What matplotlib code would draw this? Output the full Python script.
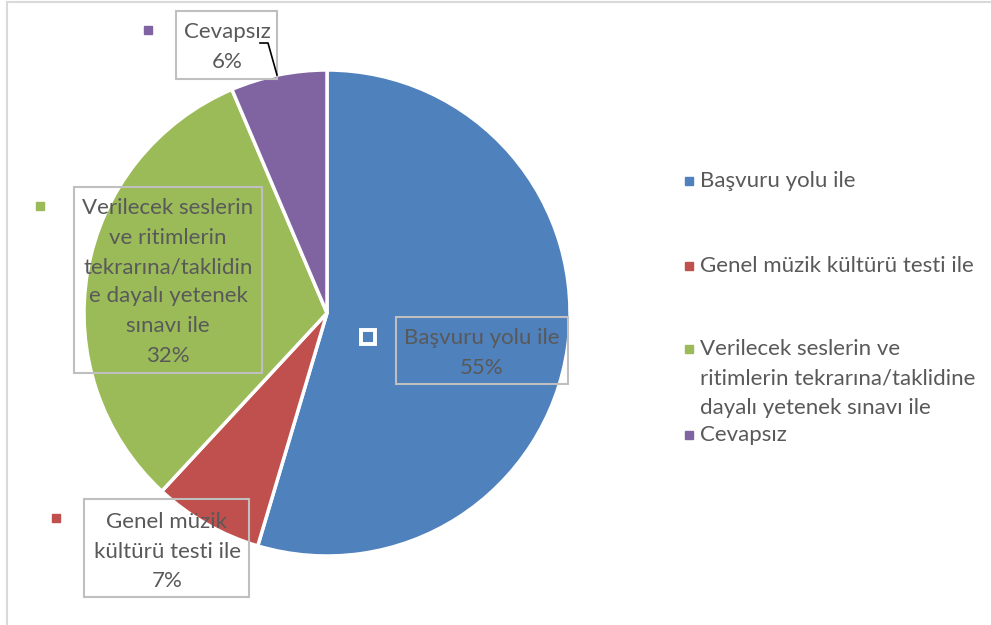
import matplotlib
matplotlib.use("Agg")
import matplotlib.pyplot as plt
from matplotlib.patches import Rectangle
from matplotlib.lines import Line2D

W, H = 991, 625

categories = [
    "Başvuru yolu ile",
    "Genel müzik kültürü testi ile",
    "Verilecek seslerin ve ritimlerin tekrarına/taklidine dayalı yetenek sınavı ile",
    "Cevapsız",
]
# slice sizes (labels show them rounded)
values = [54.6, 7.3, 31.7, 6.4]
colors = ["#4F81BD", "#C0504D", "#9BBB59", "#8064A2"]

# wrapped text as it appears inside the data label boxes
label_lines = [
    "Başvuru yolu ile",
    "Genel müzik\nkültürü testi ile",
    "Verilecek seslerin\nve ritimlerin\ntekrarına/taklidin\ne dayalı yetenek\nsınavı ile",
    "Cevapsız",
]
# wrapped text in the legend
legend_lines = [
    "Başvuru yolu ile",
    "Genel müzik kültürü testi ile",
    "Verilecek seslerin ve\nritimlerin tekrarına/taklidine\ndayalı yetenek sınavı ile",
    "Cevapsız",
]

TEXT = "#595959"
BOX = "#bfbfbf"
FONT = ["Lato", "DejaVu Sans"]
FS = 16
LINE_STEP = 29.5


def fx(x):
    return x / W


def fy(y):
    return 1 - y / H


fig = plt.figure(figsize=(W / 100, H / 100), dpi=100)
fig.patch.set_facecolor("white")

# outer chart frame (only left and top edges visible)
fig.add_artist(Line2D([fx(6.5), fx(6.5)], [fy(1.5), 0], color="#d9d9d9", lw=1.5))
fig.add_artist(Line2D([fx(6.5), 1], [fy(1.5), fy(1.5)], color="#d9d9d9", lw=1.5))

# pie
cx, cy, r = 327, 313, 243
ax = fig.add_axes([fx(cx - r), fy(cy + r), 2 * r / W, 2 * r / H])
wedges, _ = ax.pie(
    values,
    colors=colors,
    startangle=90,
    counterclock=False,
    wedgeprops=dict(edgecolor="white", linewidth=2.5),
)
ax.set_xlim(-1, 1)
ax.set_ylim(-1, 1)
ax.axis("off")

# data label boxes: (left, top, right, bottom), text center x, first line y, marker xy
label_layout = [
    ((396, 317, 568, 384), 482, 338, (368, 337)),
    ((84, 499, 249, 597), 167, 522, (56, 517.5)),
    ((74, 187, 262, 373), 168, 208, (40, 205.5)),
    ((176, 11, 277, 79), 227, 32, (147.5, 29.5)),
]

for i, (box, tx, ty, mk) in enumerate(label_layout):
    l, t, rr, b = box
    fig.add_artist(Rectangle((fx(l), fy(b)), (rr - l) / W, (b - t) / H,
                             fill=False, edgecolor=BOX, lw=1.5, zorder=5))
    lines = label_lines[i].split("\n") + [f"{values[i]:.0f}%"]
    for j, line in enumerate(lines):
        fig.text(fx(tx), fy(ty + j * LINE_STEP), line, ha="center", va="center",
                 fontsize=FS, color=TEXT, family=FONT, zorder=6)
    if i == 0:
        fig.add_artist(Line2D([fx(mk[0])], [fy(mk[1])], marker="s", markersize=10,
                              markerfacecolor=colors[i], markeredgecolor="white",
                              markeredgewidth=2.8, zorder=6))
    else:
        fig.add_artist(Line2D([fx(mk[0])], [fy(mk[1])], marker="s", markersize=6,
                              markerfacecolor=colors[i], markeredgecolor=colors[i],
                              lw=0, zorder=6))

# leader line for the small "Cevapsız" slice
fig.add_artist(Line2D([fx(260), fx(268), fx(277)], [fy(43), fy(43), fy(75)],
                      color="black", lw=1.2, zorder=6))

# legend on the right
legend_y = [181, 266, 349, 435]
for i, y in enumerate(legend_y):
    fig.add_artist(Line2D([fx(688.5)], [fy(y)], marker="s", markersize=5.5,
                          markerfacecolor=colors[i], markeredgecolor=colors[i], lw=0))
    for j, line in enumerate(legend_lines[i].split("\n")):
        fig.text(fx(700), fy(y + j * 29.5), line, ha="left", va="center",
                 fontsize=FS, color=TEXT, family=FONT)

fig.savefig("out.png", dpi=100)
